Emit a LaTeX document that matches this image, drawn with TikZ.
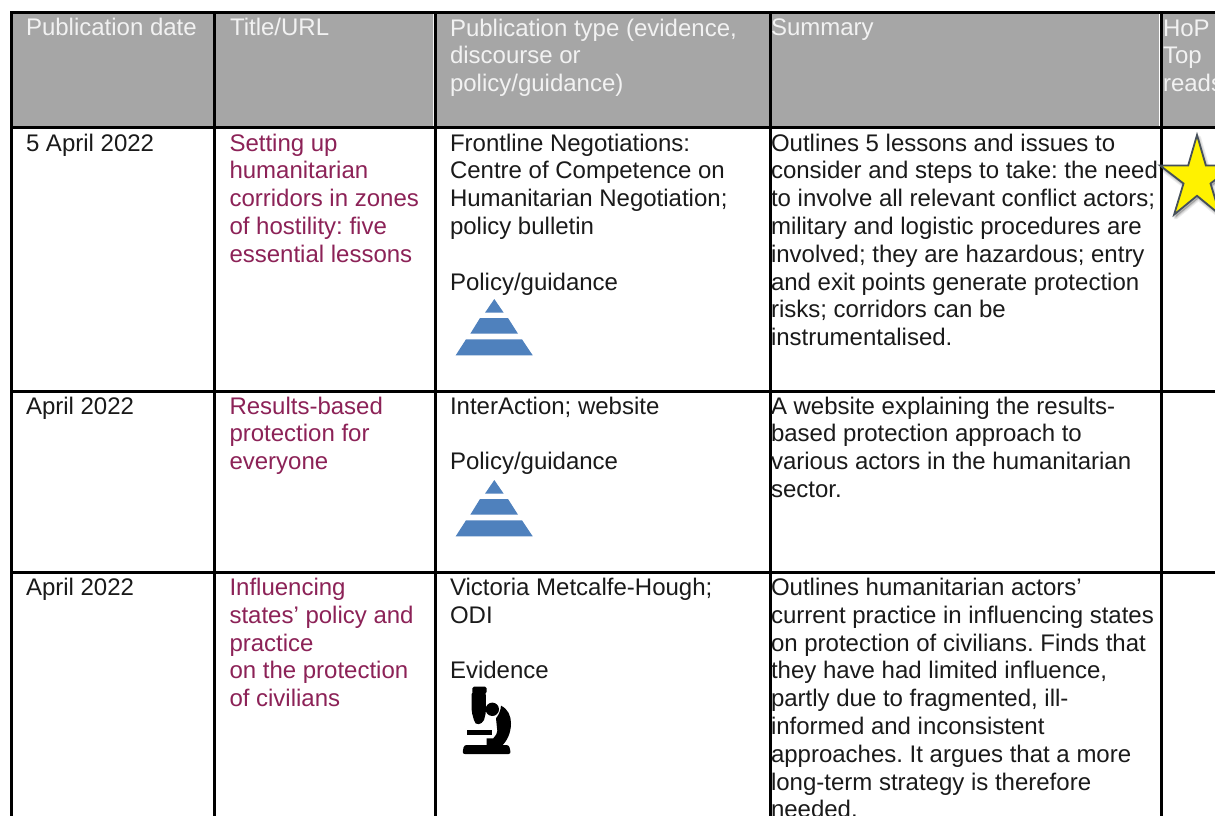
\documentclass[tikz,border=0pt]{standalone}
\usepackage{fontspec}
\setmainfont{Liberation Sans}
\frenchspacing
\definecolor{hdr}{HTML}{A6A6A6}
\definecolor{hdrtext}{HTML}{F2F2F2}
\definecolor{body}{HTML}{1A1A1A}
\definecolor{link}{HTML}{8C2257}
\definecolor{pyr}{HTML}{4F81BD}
\definecolor{starline}{HTML}{46505A}
\newcommand{\tstrut}{\rule{0pt}{18pt}}
\newcommand{\starpath}{(1197,135) -- (1205.8,165.4) -- (1234.1,165.4) -- (1210.5,183.5) -- (1219.9,214.6) -- (1197,195.8) -- (1174.1,214.6) -- (1183.5,183.5) -- (1159.9,165.4) -- (1188.2,165.4) -- cycle}
\tikzset{
  x=1pt,y=-1pt,
  grid/.style={line width=3pt,black},
  cell/.style={anchor=north west,inner sep=0pt,outer sep=0pt,align=left,text=body,
    font=\fontsize{24}{27.8}\selectfont},
  head/.style={cell,text=hdrtext},
  linkcell/.style={cell,text=link},
  tier/.style={fill=pyr,draw=none},
  starshadow/.style={fill=black,draw=black,opacity=.07,line join=round},
  pics/pyramid/.style={code={
    \fill[tier] (494.3,299) -- (503.7,312.7) -- (485,312.7) -- cycle;
    \fill[tier] (480,318) -- (508,318) -- (518,333.7) -- (470.3,333.7) -- cycle;
    \fill[tier] (466,339.3) -- (522,339.3) -- (532.7,355.3) -- (455.7,355.3) -- cycle;
  }}
}
\begin{document}
\begin{tikzpicture}
\useasboundingbox (0,0) rectangle (1215,816);
\clip (0,0) rectangle (1215,816);
\fill[white] (0,0) rectangle (1215,816);
\fill[hdr] (11.5,12.8) rectangle (1215,127.8);
% light seams in the header
\draw[white!85!hdr,line width=0.7pt] (433.6,14) -- (433.6,126);
\draw[white,line width=0.9pt] (1159.4,14) -- (1159.4,126);
% grid
\draw[grid] (10,12.8) -- (1215,12.8);
\draw[grid] (10,127.8) -- (1215,127.8);
\draw[grid] (10,391) -- (1215,391);
\draw[grid] (10,572.5) -- (1215,572.5);
\foreach \xx in {11.5,214.5,435.5,770.5,1161.5}
  \draw[grid] (\xx,11.3) -- (\xx,816);
% header
\node[head] (h1) at (26,18) {\tstrut Publication date};
\node[head] (h2) at (230,18) {\tstrut Title/URL};
\node[head] (h3) at (450,18) {\tstrut Publication type (evidence,\\discourse or\\policy/guidance)};
\node[head] (h4) at (771,18) {\tstrut Summary};
\node[head] (h5) at (1163,18) {\tstrut HoP\\Top\\reads};
% row 1
\node[cell] (a1) at (26,133) {\tstrut 5 April 2022};
\node[linkcell] (b1) at (229.5,133) {\tstrut Setting up\\humanitarian\\corridors in zones\\of hostility: five\\essential lessons};
\node[cell] (c1) at (450,133) {\tstrut Frontline Negotiations:\\Centre of Competence on\\Humanitarian Negotiation;\\policy bulletin\\[27.8pt]Policy/guidance};
\node[cell] (d1) at (771,133) {\tstrut Outlines 5 lessons and issues to\\consider and steps to take: the need\\to involve all relevant conflict actors;\\military and logistic procedures are\\involved; they are hazardous; entry\\and exit points generate protection\\risks; corridors can be\\instrumentalised.};
\pic (py1) {pyramid};
% star
\begin{scope}[shift={(1.5,2.5)}]
\draw[starshadow,line width=5pt] \starpath;
\draw[starshadow,line width=3pt] \starpath;
\draw[starshadow,line width=1.5pt] \starpath;
\end{scope}
\draw[fill=yellow,draw=starline,line width=1.8pt,line join=miter] \starpath;
% row 2
\node[cell] (a2) at (26,396) {\tstrut April 2022};
\node[linkcell] (b2) at (229.5,396) {\tstrut Results-based\\protection for\\everyone};
\node[cell] (c2) at (450,396) {\tstrut InterAction; website\\[27.8pt]Policy/guidance};
\node[cell] (d2) at (771,396) {\tstrut A website explaining the results-\\based protection approach to\\various actors in the humanitarian\\sector.};
\pic (py2) at (0,181) {pyramid};
% row 3
\node[cell] (a3) at (26,577.5) {\tstrut April 2022};
\node[linkcell] (b3) at (229.5,577.5) {\tstrut Influencing\\states’ policy and\\practice\\on the protection\\of civilians};
\node[cell] (c3) at (450,577.5) {\tstrut Victoria Metcalfe-Hough;\\ODI\\[27.8pt]Evidence};
\node[cell] (d3) at (771,577.5) {\tstrut Outlines humanitarian actors’\\current practice in influencing states\\on protection of civilians. Finds that\\they have had limited influence,\\partly due to fragmented, ill-\\informed and inconsistent\\approaches. It argues that a more\\long-term strategy is therefore\\needed.};
% microscope
\fill[black,rounded corners=1.5pt] (472.3,686.7) rectangle (486.7,693.5);
\fill[black,rounded corners=2pt] (471.7,692) -- (485.7,692) -- (486,712) -- (483.5,722) -- (477,725) -- (474.5,722) -- (471.7,712) -- cycle;
\fill[black] (492.3,709.3) circle (6.7);
\fill[black] (467.3,730) rectangle (491.7,735);
\fill[black] (501,705.7) .. controls (508,709) and (511,716) .. (511,723.3) .. controls (511,733) and (507,741) .. (501.7,746) -- (486.7,746) -- (486.7,738.3) -- (493.3,738.3) .. controls (496,735) and (497.3,733) .. (497.3,731) -- (496,718.3) .. controls (498,716) and (501,710) .. (501,705.7) -- cycle;
\fill[black,rounded corners=2.5pt] (464,745) -- (509,745) -- (511,754) -- (462.3,754) -- cycle;
\end{tikzpicture}
\end{document}
